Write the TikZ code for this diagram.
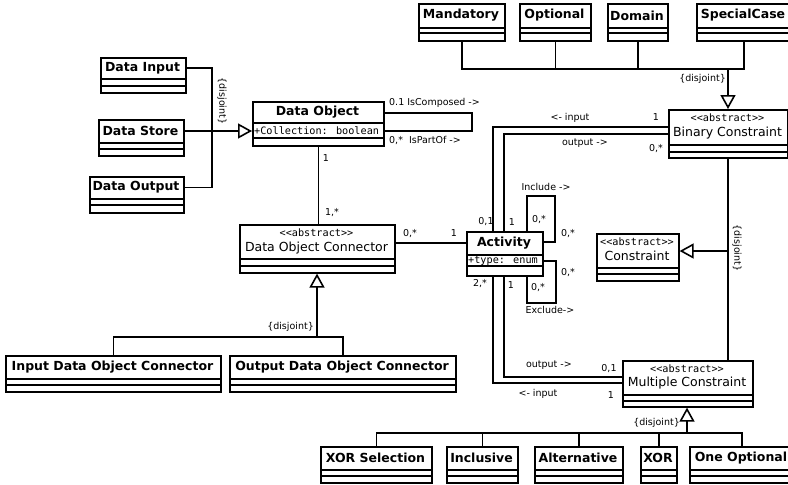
\documentclass[tikz,border=0pt]{standalone}
\usepackage{fontspec}
\setmainfont{DejaVu Sans}
\newfontfamily\umlmono{DejaVu Sans Mono}
\usetikzlibrary{arrows.meta,calc}

\tikzset{
 ln/.style={line width=1.6pt, line join=miter},
 gen/.style={ln, -{Triangle[open,length=14pt,width=15pt,fill=white]}},
 lbl/.style={font=\fontsize{9.5}{11}\selectfont, inner sep=0pt},
 bname/.style={font=\bfseries\fontsize{12.5}{14}\selectfont, inner sep=0pt},
 rname/.style={font=\fontsize{12.5}{14}\selectfont, inner sep=0pt},
 stereo/.style={font=\umlmono\fontsize{10.2}{12}\selectfont, inner sep=0pt},
 attr/.style={font=\umlmono\fontsize{10.2}{12}\selectfont, inner sep=0pt, anchor=west},
}
\newcommand\umlbox[7]{%
  \node[ln, draw, fill=white, inner sep=0pt, anchor=north west,
        minimum width={(#4-#2)*1pt}, minimum height={(#5-#3)*1pt}] (#1) at (#2,#3) {};
  \draw[ln] (#2,#6) -- (#4,#6) (#2,#7) -- (#4,#7);
}
\newcommand\abst{<\kern0pt<abstract>\kern0pt>}

\begin{document}
\begin{tikzpicture}[x=1pt,y=-1pt]
\useasboundingbox (0,0) rectangle (788,485);
\fill[white] (0,0) rectangle (788,485);

% ---------- boxes ----------
\umlbox{Mand}{418}{3}{504}{40}{28}{33}
\umlbox{Opt}{519}{3}{590}{40}{28}{33}
\umlbox{Dom}{607}{3}{667}{40}{28}{33}
\umlbox{Spec}{696}{3}{790}{40}{28}{33}
\node[bname] (Mandn) at (461,15.5) {Mandatory};
\node[bname] (Optn) at (554.5,15.5) {Optional};
\node[bname] (Domn) at (637,15.5) {Domain};
\node[bname] (Specn) at (743,15.5) {SpecialCase};

\umlbox{BC}{668}{109}{787}{157}{145}{152}
\node[stereo] (BCs) at (727.5,118) {\abst};
\node[rname] (BCn) at (727.5,133) {Binary Constraint};

\umlbox{DI}{100}{57}{185}{92}{79}{86}
\node[bname] (DIn) at (142.5,68) {Data Input};
\umlbox{DS}{98}{119}{183}{155}{143}{149}
\node[bname] (DSn) at (140.5,131) {Data Store};
\umlbox{DOut}{89}{176}{183}{212}{199}{205}
\node[bname] (DOutn) at (136,187.5) {Data Output};

\umlbox{DObj}{252}{101}{383}{145}{123}{138}
\node[bname] (DObjn) at (317.5,112) {Data Object};
\node[attr] (DObja) at (254,130.5) {+Collection: boolean};

\umlbox{DOC}{239}{224}{394}{272}{259}{266}
\node[stereo] (DOCs) at (316.5,233) {\abst};
\node[rname] (DOCn) at (316.5,248) {Data Object Connector};

\umlbox{Act}{466}{231}{542}{275}{255}{266}
\node[bname] (Actn) at (504,243) {Activity};
\node[attr] (Acta) at (468,260.5) {+type: enum};

\umlbox{Con}{596}{233}{678}{280}{268}{274}
\node[stereo] (Cons) at (637,242) {\abst};
\node[rname] (Conn) at (637,256) {Constraint};

\umlbox{MC}{622}{360}{752}{406}{395}{401}
\node[stereo] (MCs) at (687,369) {\abst};
\node[rname] (MCn) at (687,383) {Multiple Constraint};

\umlbox{IDOC}{5}{355}{220}{391}{379}{385}
\node[bname] (IDOCn) at (112.5,367) {Input Data Object Connector};
\umlbox{ODOC}{229}{355}{455}{391}{379}{385}
\node[bname] (ODOCn) at (342,367) {Output Data Object Connector};

\umlbox{XS}{320}{446}{431}{482}{470}{476}
\node[bname] (XSn) at (375.5,458) {XOR Selection};
\umlbox{Inc}{446}{446}{517}{482}{470}{476}
\node[bname] (Incn) at (481.5,458) {Inclusive};
\umlbox{Alt}{534}{446}{622}{482}{470}{476}
\node[bname] (Altn) at (578,458) {Alternative};
\umlbox{XOR}{640}{446}{676}{482}{470}{476}
\node[bname] (XORn) at (658,458) {XOR};
\umlbox{OO}{689}{446}{793}{482}{470}{476}
\node[bname] (OOn) at (741,458) {One Optional};

% ---------- generalizations ----------
\coordinate (tj) at (728,69);
\draw[ln] (Mand.south) |- (Spec.south |- tj) -- (Spec.south);
\draw[ln] (Opt.south) -- (Opt.south |- tj);
\draw[ln] (Dom.south) -- (Dom.south |- tj);
\draw[gen] (tj) -- (tj |- BC.north);
\node[lbl, anchor=east] (djt) at (726,79) {\{disjoint\}};

\coordinate (gj) at (212,131);
\draw[ln] (DI.east |- DIn) -| (gj);
\draw[ln] (DOut.east |- DOutn) -| (gj);
\draw[gen] (DS.east |- DSn) -- (DObj.west |- DSn);
\node[lbl, rotate=-90] (djl) at (222,101) {\{disjoint\}};

\coordinate (dj) at (317,337);
\draw[gen] (dj) -- (dj |- DOC.south);
\draw[ln] (IDOC.north) |- (dj) -| (ODOC.north);
\node[lbl, anchor=east] (djd) at (314,327) {\{disjoint\}};

\coordinate (cj) at (728,251);
\draw[ln] (BC.south -| cj) -- (MC.north -| cj);
\draw[gen] (cj) -- (Con.east |- cj);
\node[lbl, rotate=-90] (djc) at (737,248) {\{disjoint\}};

\coordinate (bj) at (687,433);
\draw[gen] (bj) -- (bj |- MC.south);
\draw[ln] (XS.north) |- (OO.north |- bj) -- (OO.north);
\draw[ln] (Inc.north) -- (Inc.north |- bj);
\draw[ln] (Alt.north) -- (Alt.north |- bj);
\draw[ln] (XOR.north) -- (XOR.north |- bj);
\node[lbl, anchor=east] (djb) at (680,423) {\{disjoint\}};

% ---------- associations ----------
\coordinate (sl) at (472,122);
\draw[ln] (DObj.east |- 0,113) -| (sl) |- (DObj.east |- 0,131);
\node[lbl, anchor=west] at (389,103) {0.1 IsComposed ->};
\node[lbl, anchor=west] at (389,140) {0,*\ \ IsPartOf ->};

\draw[ln] (DObj.south) -- (DObj.south |- DOC.north);
\node[lbl] at (326,158) {1};
\node[lbl] at (332,213) {1,*};

\draw[ln] (DOC.east |- Actn) -- (Act.west |- Actn);
\node[lbl] at (410,234) {0,*};
\node[lbl] at (454,233) {1};

\draw[ln] (BC.west |- 0,127) -| (Act.north -| 493,0);
\draw[ln] (BC.west |- 0,134) -| (Act.north -| 504,0);
\node[lbl] at (570,118) {<- input};
\node[lbl] at (656,117) {1};
\node[lbl] at (585,143) {output ->};
\node[lbl] at (656,149) {0,*};
\node[lbl] at (486,222) {0,1};
\node[lbl] at (512,222) {1};

\draw[ln] (Act.south -| 493,0) |- (MC.west |- 0,383);
\draw[ln] (Act.south -| 504,0) |- (MC.west |- 0,377);
\node[lbl] at (480,284) {2,*};
\node[lbl] at (511,285) {1};
\node[lbl] at (549,365) {output ->};
\node[lbl] at (609,369) {0,1};
\node[lbl] at (538,394) {<- input};
\node[lbl] at (611,395) {1};

\coordinate (inc) at (555,196);
\draw[ln] (Act.east |- 0,242) -| (inc) -| (Act.north -| 527,0);
\node[lbl] at (546,187) {Include ->};
\node[lbl] at (539,220) {0,*};
\node[lbl] at (568,234) {0,*};
\coordinate (exc) at (556,303);
\draw[ln] (Act.east |- 0,261) -| (exc) -| (Act.south -| 527,0);
\node[lbl] at (568,273) {0,*};
\node[lbl] at (538,288) {0,*};
\node[lbl] at (550,310) {Exclude->};
\end{tikzpicture}
\end{document}
